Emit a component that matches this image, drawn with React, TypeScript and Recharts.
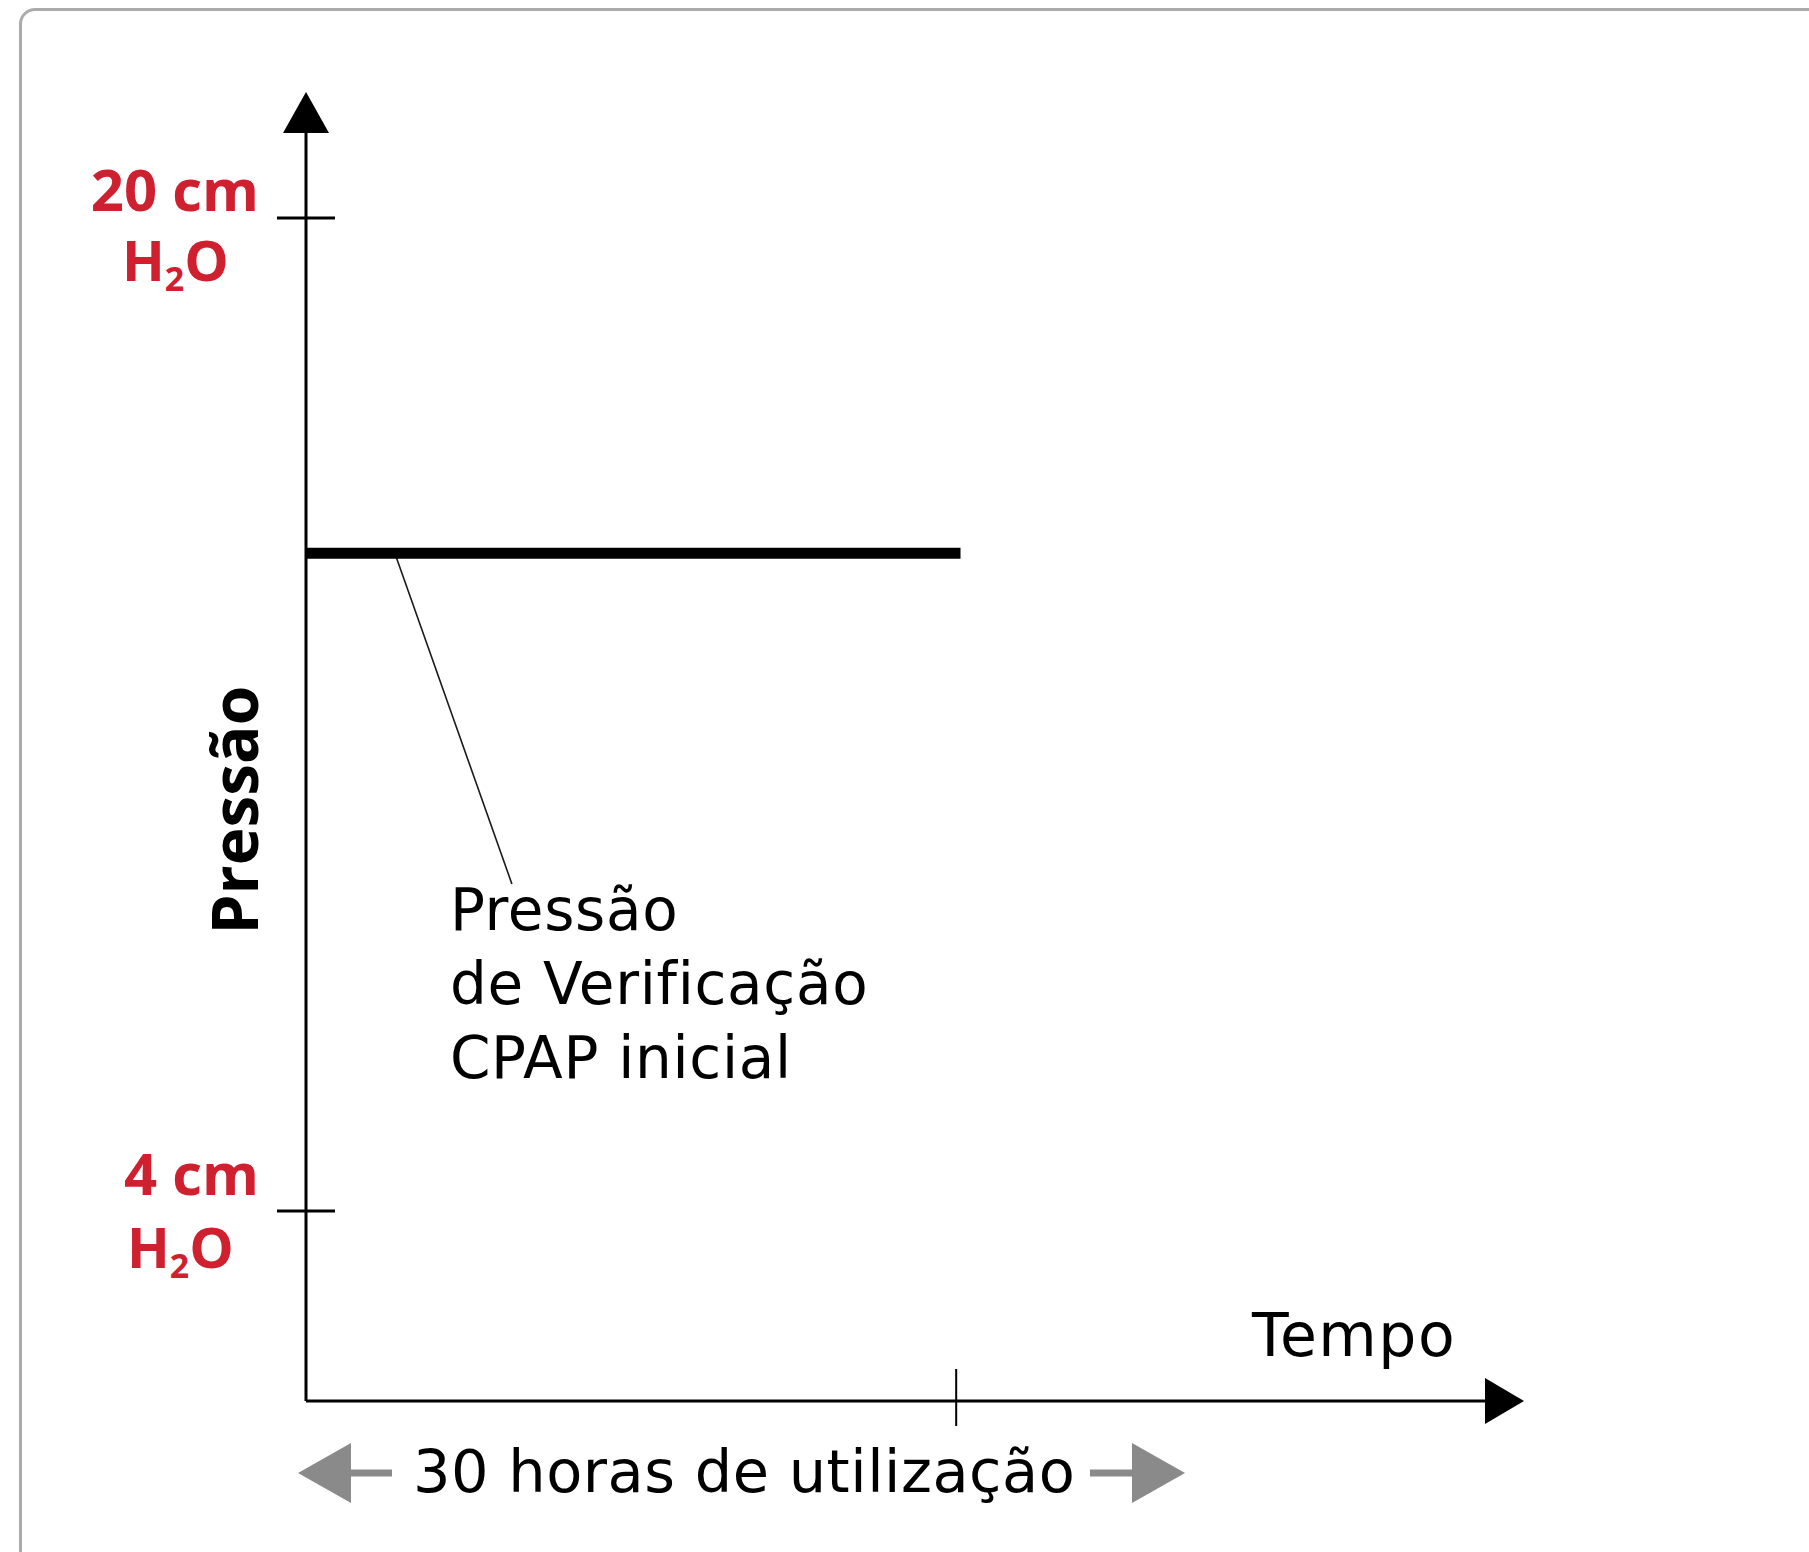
import {
  LineChart,
  Line,
  XAxis,
  YAxis,
  ReferenceLine,
  ReferenceDot,
} from "recharts";

// horas de utilização vs pressão (cm H2O)
const hours = [0, 30.2];
const pressure = [14.6, 14.6];
const hourTicks = [30];
const pressureTicks = [4, 20];
const hourRange = [0, 54.4];
const pressureRange = [0.94, 21.37];

// callout leader, from the line down to the text
const leaderHours = [4.1, 9.5];
const leaderPressure = [14.6, 9.27];
const calloutLines = ["Pressão", "de Verificação", "CPAP inicial"];

const yTitle = "Pressão";
const yTitleAt = 10.46;
const xTitle = "Tempo";
const spanLabel = "30 horas de utilização";

const RED = "#cf2030";
const GREY = "#8a8a8a";
const TEXT_FONT = "'DejaVu Sans', sans-serif";
const BOLD_FONT = "'Open Sans', sans-serif";

const data = hours.map((t, i) => ({ t, p: pressure[i] }));

const PressureTick = ({ x, y, payload }: any) => {
  // the top label sits a little higher relative to its tick than the bottom one
  const top = payload.value === pressureTicks[pressureTicks.length - 1];
  return (
    <g>
      <line x1={x - 29} x2={x + 29} y1={y} y2={y} stroke="#000" strokeWidth={3} />
      <text
        x={x - 47}
        y={y - (top ? 7 : 16)}
        textAnchor="end"
        fill={RED}
        fontFamily={BOLD_FONT}
        fontWeight={700}
        fontSize={58}
      >
        {`${payload.value} cm`}
      </text>
      <text
        x={x - (top ? 184 : 179)}
        y={y + (top ? 63 : 57)}
        fill={RED}
        fontFamily={BOLD_FONT}
        fontWeight={700}
        fontSize={56}
      >
        H
        <tspan fontSize={34} dy={10}>
          2
        </tspan>
        <tspan dy={-10}>O</tspan>
      </text>
    </g>
  );
};

const HourTick = ({ x, y }: any) => (
  <line x1={x} x2={x} y1={y - 32} y2={y + 25} stroke="#000" strokeWidth={2} />
);

const UpArrow = ({ cx, cy }: any) => (
  <polygon points={`${cx - 23},${cy} ${cx + 23},${cy} ${cx},${cy - 41}`} fill="#000" />
);

const RightArrow = ({ cx, cy }: any) => (
  <g>
    <polygon points={`${cx},${cy - 23} ${cx},${cy + 23} ${cx + 39},${cy}`} fill="#000" />
    <text x={cx - 233} y={cy - 45} fontFamily={TEXT_FONT} fontSize={60} letterSpacing={1.5} fill="#000">
      {xTitle}
    </text>
  </g>
);

const SpanCaption = ({ cx, cy }: any) => {
  const mid = cy + 72;
  return (
    <g fill={GREY}>
      <polygon points={`${cx - 8},${mid} ${cx + 45},${mid - 30} ${cx + 45},${mid + 30}`} />
      <rect x={cx + 45} y={mid - 3.5} width={41} height={7} />
      <text
        x={cx + 107}
        y={cy + 91}
        fill="#000"
        fontFamily={TEXT_FONT}
        fontSize={59}
        letterSpacing={0.5}
      >
        {spanLabel}
      </text>
      <rect x={cx + 784} y={mid - 3.5} width={42} height={7} />
      <polygon points={`${cx + 826},${mid - 30} ${cx + 826},${mid + 30} ${cx + 879},${mid}`} />
    </g>
  );
};

const Callout = ({ cx, cy }: any) => (
  <text fontFamily={TEXT_FONT} fontSize={58} letterSpacing={0.7} fill="#000">
    {calloutLines.map((s, i) => (
      <tspan key={s} x={cx - 62} y={cy + 46 + i * 74}>
        {s}
      </tspan>
    ))}
  </text>
);

const VerticalTitle = ({ cx, cy }: any) => (
  <text
    x={cx - 48}
    y={cy}
    transform={`rotate(-90 ${cx - 48} ${cy})`}
    textAnchor="middle"
    fontFamily={BOLD_FONT}
    fontWeight={700}
    fontSize={64}
    fill="#000"
  >
    {yTitle}
  </text>
);

const App = () => {
  return (
    <div
      style={{
        position: "absolute",
        left: 0,
        top: 0,
        width: 1809,
        height: 1552,
        overflow: "hidden",
        background: "#fff",
      }}
    >
      <div
        style={{
          position: "absolute",
          left: 19,
          top: 8,
          width: 1900,
          height: 1700,
          border: "3px solid #ababab",
          borderRadius: 16,
        }}
      />
      <div style={{ position: "absolute", left: 0, top: 0 }}>
        <LineChart
          width={1809}
          height={1552}
          data={data}
          margin={{ top: 133, right: 324, left: 226, bottom: 91 }}
        >
          <XAxis
            type="number"
            dataKey="t"
            domain={hourRange}
            allowDataOverflow
            ticks={hourTicks}
            tick={HourTick}
            tickLine={false}
            tickSize={0}
            tickMargin={0}
            height={60}
            axisLine={{ stroke: "#000", strokeWidth: 3 }}
          />
          <YAxis
            type="number"
            domain={pressureRange}
            allowDataOverflow
            ticks={pressureTicks}
            tick={PressureTick}
            tickLine={false}
            tickSize={0}
            tickMargin={0}
            width={80}
            axisLine={{ stroke: "#000", strokeWidth: 3 }}
          />
          <ReferenceLine
            segment={leaderHours.map((t, i) => ({ x: t, y: leaderPressure[i] }))}
            stroke="#1a1a1a"
            strokeWidth={1.6}
            ifOverflow="visible"
          />
          <Line
            type="linear"
            dataKey="p"
            stroke="#000"
            strokeWidth={11}
            dot={false}
            activeDot={false}
            isAnimationActive={false}
          />
          <ReferenceDot x={hourRange[0]} y={pressureRange[1]} ifOverflow="visible" shape={UpArrow} />
          <ReferenceDot x={hourRange[1]} y={pressureRange[0]} ifOverflow="visible" shape={RightArrow} />
          <ReferenceDot x={hourRange[0]} y={pressureRange[0]} ifOverflow="visible" shape={SpanCaption} />
          <ReferenceDot
            x={leaderHours[1]}
            y={leaderPressure[1]}
            ifOverflow="visible"
            shape={Callout}
          />
          <ReferenceDot x={hourRange[0]} y={yTitleAt} ifOverflow="visible" shape={VerticalTitle} />
        </LineChart>
      </div>
    </div>
  );
};

export default App;
